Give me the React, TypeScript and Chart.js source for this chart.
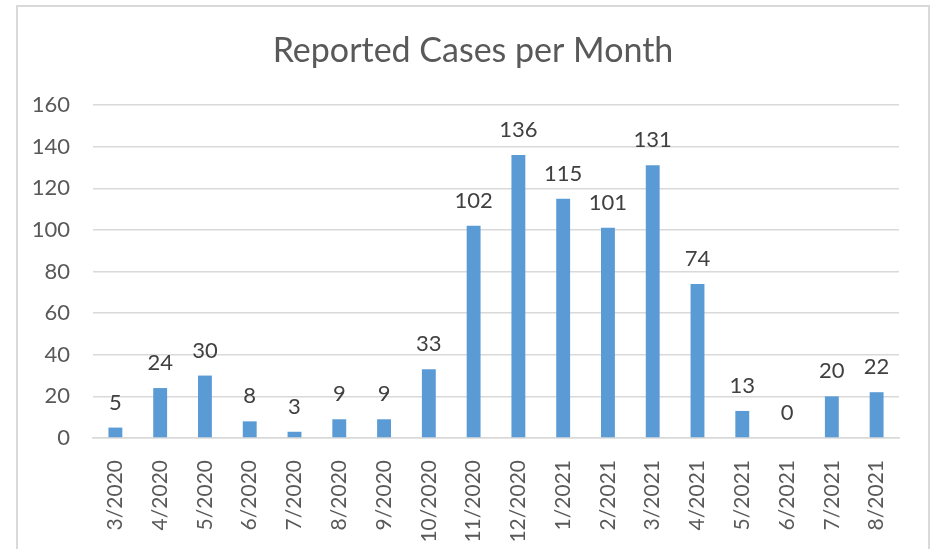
import React, { useEffect, useRef } from "react";
import { Chart, registerables } from "chart.js";

Chart.register(...registerables);

const categories = [
  "3/2020", "4/2020", "5/2020", "6/2020", "7/2020", "8/2020", "9/2020",
  "10/2020", "11/2020", "12/2020", "1/2021", "2/2021", "3/2021", "4/2021",
  "5/2021", "6/2021", "7/2021", "8/2021",
];
const cases = [5, 24, 30, 8, 3, 9, 9, 33, 102, 136, 115, 101, 131, 74, 13, 0, 20, 22];
const yMin = 0;
const yMax = 160;
const yStep = 20;
const titleText = "Reported Cases per Month";

const FONT = "Lato, 'Open Sans', sans-serif";

const labelPlugin = {
  id: "barLabels",
  afterDatasetsDraw(chart: any) {
    const ctx = chart.ctx;
    const meta = chart.getDatasetMeta(0);
    ctx.save();
    ctx.font = `22px ${FONT}`;
    ctx.fillStyle = "#404040";
    ctx.textAlign = "center";
    ctx.textBaseline = "middle";
    meta.data.forEach((bar: any, i: number) => {
      ctx.fillText(String(cases[i]), bar.x, bar.y - 25);
    });
    ctx.restore();
  },
};

const titlePlugin = {
  id: "customTitle",
  afterDraw(chart: any) {
    const ctx = chart.ctx;
    ctx.save();
    ctx.font = `34px ${FONT}`;
    ctx.fillStyle = "#595959";
    ctx.textAlign = "center";
    ctx.textBaseline = "middle";
    ctx.fillText(titleText, 473, 51);
    ctx.restore();
  },
};

export default function App() {
  const ref = useRef<HTMLCanvasElement | null>(null);
  useEffect(() => {
    if (!ref.current) return;
    const chart = new Chart(ref.current, {
      type: "bar",
      data: {
        labels: categories,
        datasets: [
          {
            data: cases,
            backgroundColor: "#5B9BD5",
            categoryPercentage: 1,
            barPercentage: 0.31,
          },
        ],
      },
      options: {
        responsive: false,
        animation: false,
        layout: { padding: { left: 0, right: 35, top: 105, bottom: 0 } },
        plugins: { legend: { display: false }, tooltip: { enabled: false }, title: { display: false } },
        scales: {
          x: {
            grid: { display: false },
            border: { display: true, color: "#D9D9D9", width: 1.5 },
            ticks: {
              color: "#595959",
              font: { family: FONT, size: 21 },
              minRotation: 90,
              maxRotation: 90,
              padding: 14,
              autoSkip: false,
            },
            afterFit: (s: any) => {
              s.height = 111;
            },
          },
          y: {
            min: yMin,
            max: yMax,
            border: { display: false },
            grid: { color: "#D9D9D9", lineWidth: 1.5, drawTicks: false },
            ticks: {
              stepSize: yStep,
              color: "#595959",
              font: { family: FONT, size: 22 },
              padding: 23,
            },
            afterFit: (s: any) => {
              s.width = 93;
            },
          },
        },
      },
      plugins: [labelPlugin, titlePlugin],
    });
    return () => chart.destroy();
  }, []);

  return (
    <div style={{ position: "fixed", left: 0, top: 0, width: 934, height: 549, background: "#fff", overflow: "hidden" }}>
      <div
        style={{
          position: "absolute",
          left: 16,
          top: 5,
          width: 910,
          height: 600,
          border: "2px solid #D9D9D9",
        }}
      />
      <canvas ref={ref} width={934} height={549} style={{ position: "absolute", left: 0, top: 0 }} />
    </div>
  );
}
